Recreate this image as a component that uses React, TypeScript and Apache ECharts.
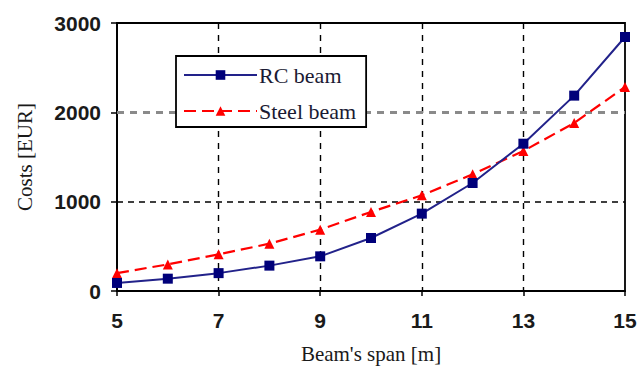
import React, { useEffect, useRef } from "react";
import * as echarts from "echarts";

const spans = ["5", "6", "7", "8", "9", "10", "11", "12", "13", "14", "15"];
const rcBeam = [90, 138, 200, 284, 388, 593, 866, 1209, 1649, 2187, 2843];
const steelBeam = [200, 298, 410, 530, 687, 885, 1071, 1306, 1567, 1881, 2284];
const yTicks = [0, 1000, 2000, 3000];
const grayGridValue = 2000;

export default function App() {
  const ref = useRef<HTMLDivElement>(null);
  useEffect(() => {
    document.body.style.margin = "0";
    const chart = echarts.init(ref.current!, null, { renderer: "svg" });
    const gridColors = yTicks.map((v) => (v === grayGridValue ? "transparent" : "#000000"));
    chart.setOption({
      animation: false,
      backgroundColor: "#ffffff",
      grid: {
        left: 117,
        right: 15,
        top: 23,
        bottom: 77,
        show: true,
        borderColor: "#000",
        borderWidth: 1.8,
        backgroundColor: "transparent",
      },
      legend: {
        left: 176,
        top: 56,
        z: 20,
        zlevel: 0,
        orient: "vertical",
        backgroundColor: "#fff",
        borderColor: "#000",
        borderWidth: 1.8,
        padding: [8, 10, 5, 7],
        itemGap: 14,
        itemWidth: 73,
        itemHeight: 12,
        textStyle: {
          fontFamily: "Liberation Serif",
          fontSize: 22,
          color: "#1a1a33",
          padding: [0, 0, 0, -3],
        },
        data: ["RC beam", "Steel beam"],
      },
      xAxis: {
        type: "category",
        data: spans,
        boundaryGap: false,
        name: "Beam's span [m]",
        nameLocation: "middle",
        nameGap: 52,
        nameTextStyle: { fontFamily: "Liberation Serif", fontSize: 21, color: "#1a1a1a" },
        axisLine: { lineStyle: { color: "#000", width: 1.8 } },
        axisTick: { show: true, length: 5, interval: 1, lineStyle: { color: "#000", width: 1.5 } },
        axisLabel: {
          interval: 1,
          margin: 19,
          fontFamily: "Liberation Sans",
          fontWeight: "bold",
          fontSize: 21,
          color: "#1a1a1a",
        },
        splitLine: {
          show: true,
          interval: (i: number) => i % 2 === 0 && i > 0 && i < spans.length - 1,
          lineStyle: { color: "#000", type: [6, 6], width: 1.4 },
        },
      },
      yAxis: {
        type: "value",
        min: 0,
        max: 3000,
        interval: 1000,
        name: "Costs [EUR]",
        nameLocation: "middle",
        nameGap: 82,
        nameTextStyle: { fontFamily: "Liberation Serif", fontSize: 21, color: "#1a1a1a" },
        axisLine: { show: true, lineStyle: { color: "#000", width: 1.8 } },
        axisTick: { show: true, length: 6, lineStyle: { color: "#000", width: 1.5 } },
        axisLabel: {
          margin: 16,
          fontFamily: "Liberation Sans",
          fontWeight: "bold",
          fontSize: 21,
          color: "#1a1a1a",
          formatter: (v: number) => String(v),
        },
        splitLine: {
          show: true,
          lineStyle: { color: gridColors, type: [6, 5], width: 1.6 },
        },
      },
      series: [
        {
          name: "grid2000",
          type: "line",
          data: [],
          z: 1,
          silent: true,
          markLine: {
            silent: true,
            symbol: "none",
            z: 1,
            label: { show: false },
            lineStyle: { color: "#8a8a8a", type: [7, 6], width: 3 },
            data: [{ yAxis: grayGridValue }],
          },
        },
        {
          name: "RC beam",
          type: "line",
          data: rcBeam,
          symbol: "rect",
          symbolSize: 10,
          itemStyle: { color: "#00007a" },
          lineStyle: { color: "#22228a", width: 2 },
          z: 3,
        },
        {
          name: "Steel beam",
          type: "line",
          data: steelBeam,
          symbol: "triangle",
          symbolSize: 10,
          itemStyle: { color: "#ff0000" },
          lineStyle: { color: "#ff0000", width: 2.2, type: [12, 6] },
          z: 2,
        },
      ],
    });
    return () => chart.dispose();
  }, []);
  return <div ref={ref} style={{ width: 640, height: 369 }} />;
}
